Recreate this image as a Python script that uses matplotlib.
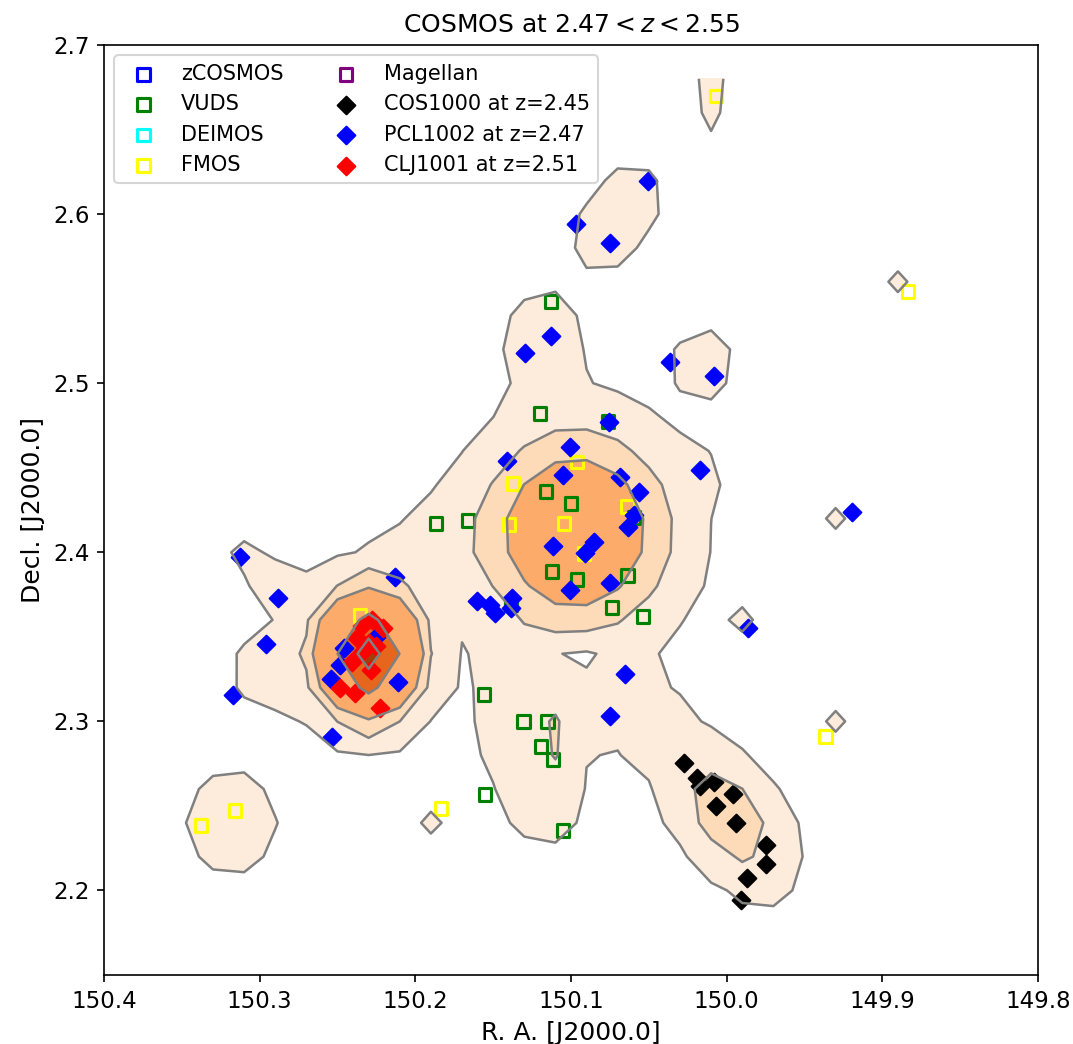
import numpy as np
import matplotlib.pyplot as plt

# spectroscopic redshifts in the slice, RA / Dec in degrees
zcosmos_ra, zcosmos_dec = [], []
deimos_ra, deimos_dec = [], []
magellan_ra, magellan_dec = [], []

vuds_ra = [150.1129, 150.1200, 150.0763, 150.1161, 150.1001, 150.1868, 150.1662,
           150.1123, 150.0962, 150.0635, 150.0737, 150.0538, 150.1386, 150.0596,
           150.1559, 150.1303, 150.1149, 150.1193, 150.1116, 150.1553, 150.1052]
vuds_dec = [2.5485, 2.4822, 2.4775, 2.4361, 2.4290, 2.4172, 2.4189,
            2.3888, 2.3840, 2.3864, 2.3675, 2.3621, 2.3692, 2.4207,
            2.3160, 2.3000, 2.3000, 2.2852, 2.2775, 2.2568, 2.2355]

fmos_ra = [150.0069, 149.8836, 150.0962, 150.1373, 150.1399, 150.1046, 150.0635,
           150.0917, 150.2356, 150.1836, 149.9363, 150.3377, 150.3159]
fmos_dec = [2.6698, 2.5544, 2.4533, 2.4408, 2.4166, 2.4172, 2.4272,
            2.3994, 2.3627, 2.2485, 2.2911, 2.2385, 2.2473]

# structure members
cos1000_ra = [150.0275, 150.0191, 150.0172, 150.0082, 149.9960, 150.0069,
              149.9941, 149.9748, 149.9748, 149.9870, 149.9909]
cos1000_dec = [2.2751, 2.2663, 2.2615, 2.2639, 2.2568, 2.2497,
               2.2396, 2.2266, 2.2154, 2.2071, 2.1941]

pcl1002_ra = [150.0506, 150.0968, 150.0750, 150.1129, 150.1296, 150.0365, 150.0082,
              150.0757, 150.1007, 150.1412, 150.1052, 150.0686, 150.0172, 150.0564,
              150.0596, 150.0635, 149.9196, 150.1116, 150.0853, 150.0911, 150.3127,
              150.2131, 150.2882, 150.1604, 150.1521, 150.1489, 150.1380, 150.1386,
              150.1007, 150.0750, 150.2960, 149.9864, 150.0654, 150.3171, 150.2112,
              150.2536, 150.0750, 150.2459, 150.2484, 150.2542, 150.2253]
pcl1002_dec = [2.6195, 2.5941, 2.5828, 2.5278, 2.5178, 2.5124, 2.5041,
               2.4769, 2.4621, 2.4538, 2.4456, 2.4444, 2.4485, 2.4355,
               2.4219, 2.4148, 2.4237, 2.4036, 2.4059, 2.3994, 2.3970,
               2.3852, 2.3728, 2.3710, 2.3686, 2.3639, 2.3728, 2.3669,
               2.3775, 2.3817, 2.3456, 2.3550, 2.3278, 2.3154, 2.3231,
               2.2905, 2.3030, 2.3432, 2.3331, 2.3249, 2.3497]

clj1001_ra = [150.2279, 150.2208, 150.2343, 150.2375, 150.2298, 150.2407,
              150.2343, 150.2285, 150.2484, 150.2388, 150.2227, 150.2253]
clj1001_dec = [2.3598, 2.3550, 2.3562, 2.3491, 2.3462, 2.3349,
               2.3408, 2.3302, 2.3195, 2.3166, 2.3077, 2.3444]

# overdensity map built from smooth clumps: centre, peak, widths (deg), angle (deg)
clump_ra = [150.230, 150.097, 150.118, 150.010, 150.190, 150.295, 150.295,
            150.125, 150.115, 150.110, 150.100, 150.050, 149.998, 150.070,
            150.015, 150.010, 150.318, 149.930, 149.990, 149.930, 149.890, 150.190]
clump_dec = [2.340, 2.412, 2.525, 2.450, 2.400, 2.386, 2.330,
             2.300, 2.250, 2.290, 2.340, 2.300, 2.243, 2.598,
             2.512, 2.675, 2.240, 2.420, 2.360, 2.300, 2.560, 2.240]
clump_amp = [1.0, 0.464, 0.06, 0.02, 0.04, 0.05, 0.045,
             0.065, 0.045, 0.09, -0.075, 0.045, 0.19, 0.06,
             0.055, 0.042, 0.06, 0.036, 0.036, 0.036, 0.036, 0.036]
clump_sig_a = [0.019, 0.036, 0.018, 0.012, 0.022, 0.025, 0.020,
               0.025, 0.015, 0.004, 0.012, 0.020, 0.0294, 0.026,
               0.015, 0.005, 0.022, 0.005, 0.005, 0.005, 0.005, 0.005]
clump_sig_b = [0.022, 0.035, 0.020, 0.012, 0.022, 0.010, 0.020,
               0.035, 0.015, 0.012, 0.004, 0.020, 0.017, 0.016,
               0.015, 0.025, 0.022, 0.005, 0.005, 0.005, 0.005, 0.005]
clump_angle = [0, 0, 0, 0, 0, -37, 0,
               0, 0, 0, 0, 0, -50, 54,
               0, 0, 0, 0, 0, 0, 0, 0]

levels = [0.025, 0.11, 0.22, 0.58, 0.85]
fill_colors = ['#fdecdc', '#fddab8', '#fcab6a', '#e5661c', '#a63b08']


def density_map(ra, dec):
    field = np.zeros_like(ra)
    for ra0, dec0, amp, sa, sb, ang in zip(clump_ra, clump_dec, clump_amp,
                                           clump_sig_a, clump_sig_b, clump_angle):
        u = -(ra - ra0)
        v = dec - dec0
        t = np.deg2rad(ang)
        a = u * np.cos(t) + v * np.sin(t)
        b = -u * np.sin(t) + v * np.cos(t)
        field += amp * np.exp(-0.5 * ((a / sa) ** 2 + (b / sb) ** 2))
    return field


# 0.02 deg map pixels
ra_grid = np.linspace(149.81, 150.39, 30)
dec_grid = np.linspace(2.16, 2.68, 27)
RA, DEC = np.meshgrid(ra_grid, dec_grid)
dens = density_map(RA, DEC)

fig = plt.figure(figsize=(1073 / 150, 1044 / 150), dpi=150)
ax = fig.add_axes([104 / 1073, 1 - 975 / 1044, 934 / 1073, 930 / 1044])

ax.contourf(RA, DEC, dens, levels=levels + [50], colors=fill_colors, zorder=1)

sq = dict(marker='s', facecolors='none', linewidths=1.5, s=37, zorder=3)
ax.scatter(zcosmos_ra, zcosmos_dec, edgecolors='blue', label='zCOSMOS', **sq)
ax.scatter(vuds_ra, vuds_dec, edgecolors='green', label='VUDS', **sq)
ax.scatter(deimos_ra, deimos_dec, edgecolors='cyan', label='DEIMOS', **sq)
ax.scatter(fmos_ra, fmos_dec, edgecolors='yellow', label='FMOS', **sq)
ax.scatter(magellan_ra, magellan_dec, edgecolors='purple', label='Magellan', **sq)

ax.scatter(cos1000_ra, cos1000_dec, marker='D', color='black', s=36, zorder=4,
           label='COS1000 at z=2.45')
ax.scatter(pcl1002_ra, pcl1002_dec, marker='D', color='blue', s=36, zorder=4,
           label='PCL1002 at z=2.47')
ax.scatter(clj1001_ra, clj1001_dec, marker='D', color='red', s=36, zorder=4,
           label='CLJ1001 at z=2.51')

# contour outlines drawn over the galaxies
ax.contour(RA, DEC, dens, levels=levels, colors='grey', linewidths=1.2, zorder=5)

ax.set_xlim(150.4, 149.8)
ax.set_ylim(2.15, 2.7)
ax.set_xticks([150.4, 150.3, 150.2, 150.1, 150.0, 149.9, 149.8])
ax.set_xticklabels(['150.4', '150.3', '150.2', '150.1', '150.0', '149.9', '149.8'])
ax.set_yticks([2.2, 2.3, 2.4, 2.5, 2.6, 2.7])
ax.tick_params(labelsize=11)
ax.set_xlabel('R. A. [J2000.0]', fontsize=12)
ax.set_ylabel('Decl. [J2000.0]', fontsize=12)
ax.set_title(r'COSMOS at $2.47 < z < 2.55$', fontsize=12)

ax.legend(loc='upper left', ncol=2, fontsize=10, columnspacing=2.0)

fig.savefig('out.png', dpi=150)
